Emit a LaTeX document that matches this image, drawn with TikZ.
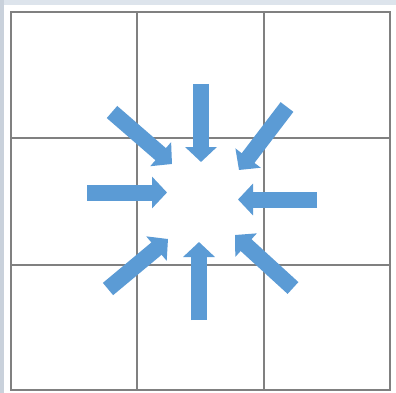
\documentclass[tikz,border=0pt]{standalone}
\usetikzlibrary{arrows.meta}
\definecolor{arrowblue}{HTML}{5B9BD5}
\definecolor{gridgray}{HTML}{808080}
\definecolor{bgtop}{HTML}{DDE4EC}
\definecolor{bgleft}{HTML}{C9D1DB}
\begin{document}
\begin{tikzpicture}[x=1pt,y=-1pt,
  gridline/.style={draw=gridgray,line width=2.2pt},
  inarrow/.style={draw=arrowblue,line width=16pt,line cap=butt,
    -{Triangle[length=15pt,width=31pt]}}]
\useasboundingbox (0,0) rectangle (396,393);
\fill[white] (0,0) rectangle (396,393);
\fill[bgtop] (0,0) rectangle (396,5);
\fill[bgleft] (0,0) rectangle (4,393);
% grid
\draw[gridline] (11,12) rectangle (390,390);
\draw[gridline] (137,12) -- (137,390);
\draw[gridline] (264,12) -- (264,390);
\draw[gridline] (11,138) -- (390,138);
\draw[gridline] (11,265) -- (390,265);
% arrow tails and tips
\coordinate (tT) at (201,84);   \coordinate (hT) at (201,162);
\coordinate (tB) at (199,320);  \coordinate (hB) at (199,242);
\coordinate (tL) at (87,192.5); \coordinate (hL) at (167,192.5);
\coordinate (tR) at (317,199.5);\coordinate (hR) at (238,199.5);
\coordinate (tTL) at (112,112); \coordinate (hTL) at (172,164);
\coordinate (tTR) at (287,107); \coordinate (hTR) at (239,170);
\coordinate (tBL) at (108,289); \coordinate (hBL) at (168,239);
\coordinate (tBR) at (293,288); \coordinate (hBR) at (235,235);
\foreach \a in {T,B,L,R,TL,TR,BL,BR}
  \draw[inarrow] (t\a) -- (h\a);
\end{tikzpicture}
\end{document}
